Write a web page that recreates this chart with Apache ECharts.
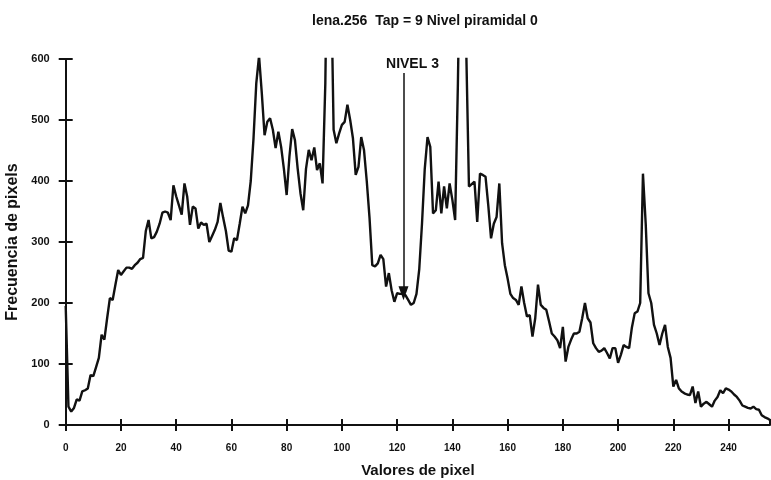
<!DOCTYPE html>
<html>
<head>
<meta charset="utf-8">
<title>lena.256 histograma</title>
<script src="https://cdn.jsdelivr.net/npm/echarts@6/dist/echarts.min.js"></script>
<style>
  html, body { margin: 0; padding: 0; background: #fff; }
  #main { width: 771px; height: 480px; }
</style>
</head>
<body>
<div id="main"></div>
<script>
// frecuencia de cada nivel de gris 0..255
var frecuencias = [
  195, 30, 22, 28, 42, 40, 55, 57, 60, 82,
  80, 95, 110, 148, 140, 175, 208, 205, 230, 254,
  246, 252, 258, 258, 256, 262, 266, 272, 274, 318,
  336, 306, 308, 317, 330, 348, 350, 348, 336, 393,
  375, 360, 345, 396, 374, 328, 358, 355, 322, 332,
  328, 330, 300, 310, 320, 333, 364, 340, 318, 286,
  284, 306, 303, 330, 358, 347, 360, 400, 470, 560,
  605, 544, 475, 497, 503, 484, 454, 481, 456, 420,
  377, 440, 485, 467, 420, 380, 352, 420, 451, 434,
  455, 418, 429, 396, 560, 900, 760, 484, 462, 478,
  492, 497, 525, 500, 470, 410, 423, 472, 451, 400,
  340, 262, 260, 265, 279, 272, 227, 249, 221, 202,
  216, 215, 215, 213, 205, 197, 200, 215, 255, 330,
  420, 472, 456, 347, 352, 399, 347, 391, 355, 396,
  369, 336, 560, 850, 900, 620, 391, 395, 399, 333,
  412, 410, 407, 360, 306, 330, 341, 396, 298, 262,
  240, 215, 208, 205, 197, 227, 200, 178, 180, 145,
  175, 230, 197, 192, 189, 170, 150, 145, 139, 126,
  161, 104, 128, 140, 150, 150, 153, 175, 200, 175,
  168, 134, 126, 120, 122, 126, 118, 109, 126, 126,
  102, 115, 131, 128, 126, 160, 183, 186, 200, 412,
  330, 216, 200, 164, 150, 131, 150, 164, 128, 110,
  63, 74, 60, 55, 52, 50, 49, 63, 36, 55,
  30, 35, 38, 34, 30, 40, 46, 57, 52, 60,
  58, 55, 50, 46, 40, 32, 30, 28, 27, 30,
  26, 25, 16, 13, 11, 8
];
var niveles = frecuencias.map(function (v, i) { return [i, v]; });

var xTicks = [0, 255, 20];   // min, max, paso
var yTicks = [0, 600, 100];

// flecha "NIVEL 3"
var nivel3X = 122.3;
var nivel3Desde = 577;
var nivel3Hasta = 216;

var fuente = 'Liberation Sans, Arial, sans-serif';
var negro = '#111';

var myChart = echarts.init(document.getElementById('main'));

// las marcas del original cruzan el eje: un eje con marcas hacia fuera y otro con marcas hacia dentro
function ejeX(dentro) {
  return {
    type: 'value', position: 'bottom',
    min: xTicks[0], max: xTicks[1], interval: xTicks[2],
    name: dentro ? '' : 'Valores de pixel',
    nameLocation: 'middle',
    nameGap: 38,
    nameTextStyle: { fontFamily: fuente, fontSize: 15, fontWeight: 'bold', color: negro },
    axisLine: { show: !dentro, lineStyle: { color: negro, width: 2 } },
    axisTick: { inside: dentro, length: 6, lineStyle: { color: negro, width: 2 } },
    axisLabel: {
      show: !dentro,
      showMaxLabel: false,
      margin: 18,
      fontFamily: fuente, fontSize: 10, fontWeight: 'bold', color: negro
    },
    splitLine: { show: false }
  };
}
function ejeY(dentro) {
  return {
    type: 'value', position: 'left',
    min: yTicks[0], max: yTicks[1], interval: yTicks[2],
    name: dentro ? '' : 'Frecuencia de pixels',
    nameLocation: 'middle',
    nameGap: 35,
    nameTextStyle: { fontFamily: fuente, fontSize: 16, fontWeight: 'bold', color: negro },
    axisLine: { show: !dentro, lineStyle: { color: negro, width: 2 } },
    axisTick: { show: true, inside: dentro, length: 7, lineStyle: { color: negro, width: 2 } },
    axisLabel: { show: !dentro, margin: 16, fontFamily: fuente, fontSize: 11, fontWeight: 'bold', color: negro },
    splitLine: { show: false }
  };
}

var option = {
  backgroundColor: '#fff',
  animation: false,
  title: {
    text: 'lena.256  Tap = 9 Nivel piramidal 0',
    left: 420,
    top: 9,
    textAlign: 'center',
    textStyle: { fontFamily: fuente, fontSize: 14, fontWeight: 'bold', color: negro }
  },
  grid: { left: 65.7, right: 1, top: 59, bottom: 55, outerBoundsMode: 'none', containLabel: false },
  xAxis: [ejeX(false), ejeX(true)],
  yAxis: [ejeY(false), ejeY(true)],
  series: [{
    type: 'line',
    data: niveles,
    showSymbol: false,
    clip: true,
    lineStyle: { color: negro, width: 2.4 },
    markLine: {
      silent: true,
      symbol: ['none', 'triangle'],
      symbolSize: [10, 14],
      lineStyle: { color: negro, width: 1.5, type: 'solid' },
      label: {
        show: true,
        position: 'start',
        formatter: 'NIVEL 3',
        distance: 2,
        offset: [9, 0],
        fontFamily: fuente, fontSize: 14, fontWeight: 'bold', color: negro
      },
      data: [[
        { coord: [nivel3X, nivel3Desde] },
        { coord: [nivel3X, nivel3Hasta] }
      ]]
    }
  }]
};

myChart.setOption(option);
</script>
</body>
</html>
